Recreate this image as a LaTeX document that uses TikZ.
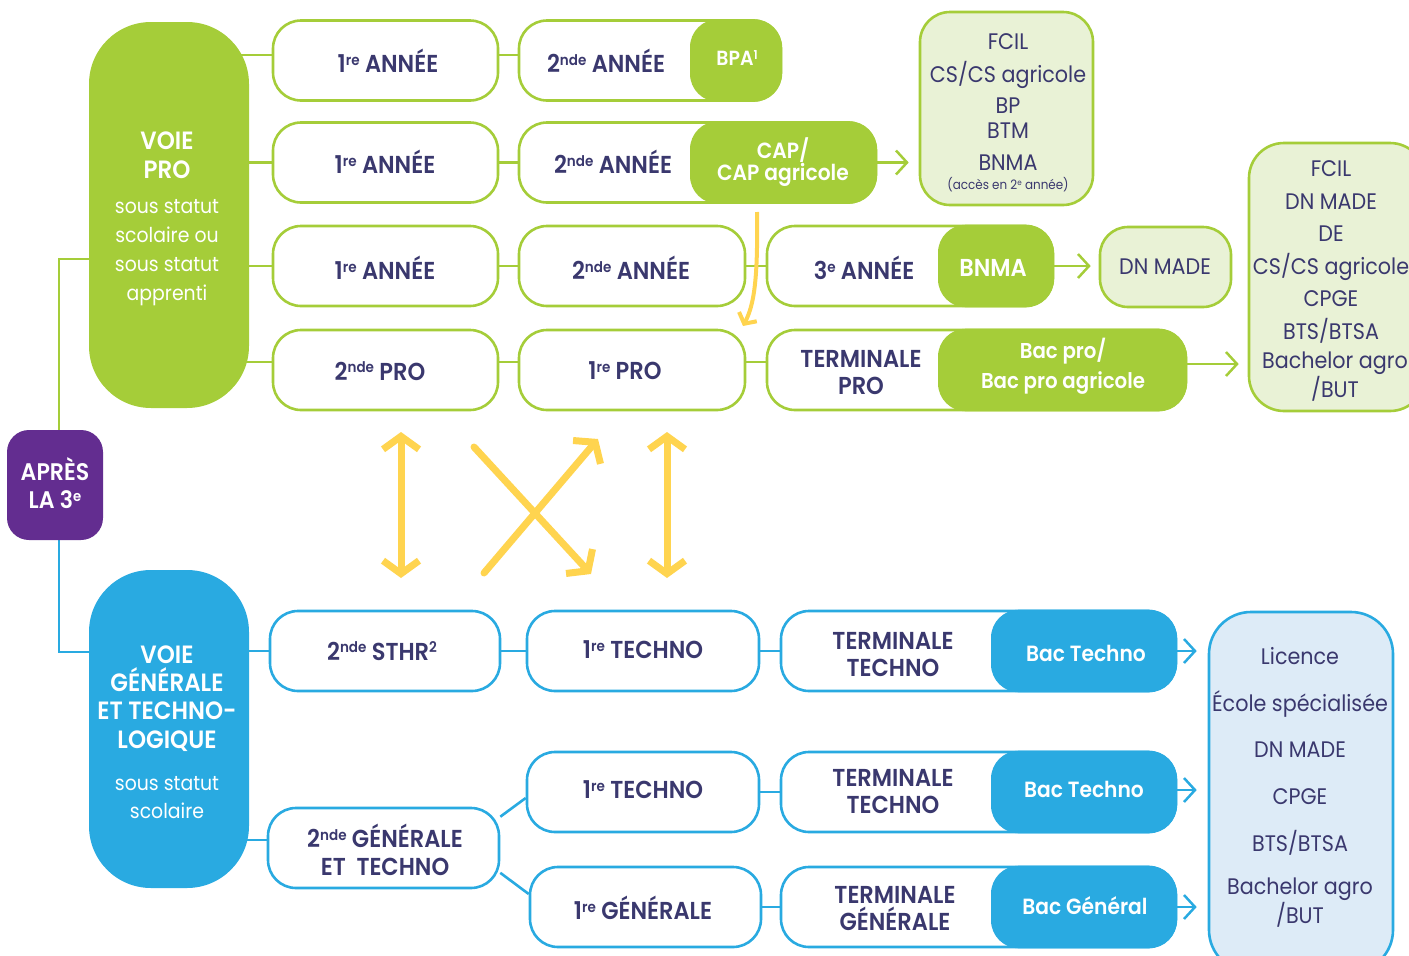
\documentclass[tikz,border=0pt]{standalone}
\usepackage{fontspec}
\usepackage{graphicx}
\setmainfont{Poppins}[FakeStretch=0.92]
\newfontfamily\semib{Poppins SemiBold}[FakeStretch=0.92]
\usetikzlibrary{arrows.meta,calc}
\pgfdeclarelayer{bg}
\pgfsetlayers{bg,main}
\definecolor{gr}{HTML}{A5CD39}
\definecolor{lg}{HTML}{E9F2D6}
\definecolor{bl}{HTML}{29AAE1}
\definecolor{lb}{HTML}{DDEBF7}
\definecolor{pu}{HTML}{632D90}
\definecolor{navy}{HTML}{3A386E}
\definecolor{yel}{HTML}{FFD44F}
\newcommand\mysup[1]{\raisebox{0.3em}{\scalebox{0.6}{#1}}}
\tikzset{ytip/.tip={Straight Barb[length=13pt,width=36pt]}}
\begin{document}
\begin{tikzpicture}[x=1pt,y=-1pt,
  box/.style={rounded corners=28pt, line width=2.6pt, minimum height=80pt, inner sep=0pt, fill=white},
  gbox/.style={box, draw=gr},
  bbox/.style={box, draw=bl},
  gpart/.style={rounded corners=28pt, fill=gr, minimum height=82.6pt, inner sep=0pt},
  bpart/.style={rounded corners=28pt, fill=bl, minimum height=82.6pt, inner sep=0pt},
  lab/.style={inner sep=0pt, align=center, text=navy, font=\semib\fontsize{24.5}{27}\selectfont},
  wlab/.style={lab, text=white},
  lst/.style={inner sep=0pt, align=center, text=navy, font=\fontsize{22.5}{27}\selectfont},
  gline/.style={draw=gr, line width=2.6pt},
  bline/.style={draw=bl, line width=2.6pt},
  garrow/.style={draw=gr, line width=2.5pt, -{Straight Barb[length=11pt,width=24pt]}},
  barrow/.style={draw=bl, line width=2.5pt, -{Straight Barb[length=11pt,width=24pt]}},
  yarrow/.style={draw=yel, line width=7pt, line cap=round},
]
\useasboundingbox (0,0) rectangle (1409,956);

% main columns
\node[fill=gr, rounded corners=62pt, minimum width=160pt, minimum height=386pt, inner sep=0pt] (voiepro) at (169,215) {};
\node[fill=bl, rounded corners=62pt, minimum width=160pt, minimum height=318pt, inner sep=0pt] (voiegen) at (169,729) {};
\node[fill=pu, rounded corners=22pt, minimum width=96pt, minimum height=110pt, inner sep=0pt] (apres) at (55,485) {};

\node[wlab, font=\semib\fontsize{25}{29}\selectfont] (voieprot) at (167,155.5) {VOIE\\PRO};
\node[wlab, font=\fontsize{20.5}{29}\selectfont] (voieprost) at (167,252.5) {sous statut\\scolaire ou\\sous statut\\apprenti};
\node[wlab, font=\semib\fontsize{24}{28}\selectfont] (apresst) at (55,483) {APRÈS\\LA 3\mysup{e}};
\node[wlab, font=\semib\fontsize{25}{28.3}\selectfont] (voiegent) at (167,698.5) {VOIE\\GÉNÉRALE\\ET TECHNO-\\LOGIQUE};
\node[wlab, font=\fontsize{20.5}{28}\selectfont] (voiegenst) at (167,798) {sous statut\\scolaire};

% green rows
\node[gbox, minimum width=225pt] (r1a) at (385.5,60.5) {};
\node[gbox, minimum width=262pt] (r1b) at (650,60.5) {};
\node[gpart, minimum width=92pt] (bpa) at (736,60.5) {};
\node[gbox, minimum width=225pt] (r2a) at (385.5,162.5) {};
\node[gbox, minimum width=357pt] (r2b) at (697.5,162.5) {};
\node[gpart, minimum width=187pt] (cap) at (783.5,162.5) {};
\node[gbox, minimum width=225pt] (r3a) at (385.5,266) {};
\node[gbox, minimum width=226pt] (r3b) at (632,266) {};
\node[gbox, minimum width=286pt] (r3c) at (910,266) {};
\node[gpart, minimum width=116pt] (bnma) at (996,266) {};
\node[gbox, fill=lg, minimum width=131pt] (dnmade) at (1165.5,267) {};
\node[gbox, minimum width=225pt] (r4a) at (385.5,370) {};
\node[gbox, minimum width=226pt] (r4b) at (632,370) {};
\node[gbox, minimum width=419pt] (r4c) at (976.5,370) {};
\node[gpart, minimum width=249pt] (bacpro) at (1062.5,370) {};
\node[gbox, fill=lg, rounded corners=30pt, minimum width=173pt, minimum height=193pt] (fcil) at (1006.5,108.5) {};
\node[gbox, fill=lg, rounded corners=35pt, minimum width=176pt, minimum height=268pt] (topright) at (1337,277) {};

\node[lab] (t1a) at (388,61) {1\mysup{re} ANNÉE};
\node[lab] (t1b) at (606,61) {2\mysup{nde} ANNÉE};
\node[wlab, font=\semib\fontsize{20.5}{22}\selectfont] (tbpa) at (737,58) {BPA\mysup{1}};
\node[lab] (t2a) at (385,162) {1\mysup{re} ANNÉE};
\node[lab] (t2b) at (613,162) {2\mysup{nde} ANNÉE};
\node[wlab, font=\semib\fontsize{22}{21}\selectfont] (tcap) at (783,162) {CAP/\\CAP agricole};
\node[lab] (t3a) at (385,268) {1\mysup{re} ANNÉE};
\node[lab] (t3b) at (631,268) {2\mysup{nde} ANNÉE};
\node[lab] (t3c) at (864,268) {3\mysup{e} ANNÉE};
\node[wlab] (tbnma) at (993,268) {BNMA};
\node[lst] (tdn) at (1165,267) {DN MADE};
\node[lab] (t4a) at (380,371) {2\mysup{nde} PRO};
\node[lab] (t4b) at (625,371) {1\mysup{re} PRO};
\node[lab] (t4c) at (861,373) {TERMINALE\\PRO};
\node[wlab, font=\semib\fontsize{21.5}{30}\selectfont] (tbacpro) at (1063,366) {Bac pro/\\Bac pro agricole};

\node[lst] (f1) at (1008,42) {FCIL};
\node[lst] (f2) at (1008,75) {CS/CS agricole};
\node[lst] (f3) at (1008,106) {BP};
\node[lst] (f4) at (1008,131) {BTM};
\node[lst] (f5) at (1008,163) {BNMA};
\node[lst, font=\fontsize{13}{15}\selectfont] (f6) at (1008,185) {(accès en 2\mysup{e} année)};

\node[lst] (g1) at (1331,169) {FCIL};
\node[lst] (g2) at (1331,202) {DN MADE};
\node[lst] (g3) at (1331,234) {DE};
\node[lst] (g4) at (1331,267) {CS/CS agricole};
\node[lst] (g5) at (1331,299) {CPGE};
\node[lst] (g6) at (1331,331) {BTS/BTSA};
\node[lst] (g7) at (1335,363) {Bachelor agro};
\node[lst] (g8) at (1335,389) {/BUT};

% blue rows
\node[bbox, minimum width=230pt] (sthr) at (385,651) {};
\node[bbox, minimum width=232pt] (techA) at (643,651) {};
\node[bbox, minimum width=395pt] (termA) at (978.5,651) {};
\node[bpart, minimum width=186pt] (bacA) at (1084,651) {};
\node[bbox, minimum width=232pt] (techB) at (643,792) {};
\node[bbox, minimum width=395pt] (termB) at (978.5,792) {};
\node[bpart, minimum width=186pt] (bacB) at (1084,792) {};
\node[bbox, minimum width=231pt] (gen1) at (645.5,907) {};
\node[bbox, minimum width=395pt] (termC) at (978.5,907) {};
\node[bpart, minimum width=186pt] (bacC) at (1084,907) {};
\node[bbox, minimum width=231pt] (gen2) at (383.5,848) {};
\node[bbox, fill=lb, rounded corners=42pt, minimum width=184pt, minimum height=360pt] (rightblue) at (1301,792) {};

\node[lab] (s1) at (382,651) {2\mysup{nde} STHR\mysup{2}};
\node[lab] (s2) at (643,650) {1\mysup{re} TECHNO};
\node[lab] (s3) at (893,655) {TERMINALE\\TECHNO};
\node[wlab, font=\semib\fontsize{22}{27}\selectfont] (s4) at (1086,653) {Bac Techno};
\node[lab] (s5) at (643,790) {1\mysup{re} TECHNO};
\node[lab] (s6) at (893,792) {TERMINALE\\TECHNO};
\node[wlab, font=\semib\fontsize{22}{27}\selectfont] (s7) at (1084,789) {Bac Techno};
\node[lab] (s8) at (643,908) {1\mysup{re} GÉNÉRALE};
\node[lab] (s9) at (895,908) {TERMINALE\\GÉNÉRALE};
\node[wlab, font=\semib\fontsize{22}{27}\selectfont] (s10) at (1085,906) {Bac Général};
\node[lab, font=\semib\fontsize{24.5}{28}\selectfont] (s11) at (385,850) {2\mysup{nde} GÉNÉRALE\\ET~~TECHNO};

\node[lst] (h1) at (1300,656) {Licence};
\node[lst] (h2) at (1300,704) {École spécialisée};
\node[lst] (h3) at (1300,750) {DN MADE};
\node[lst] (h4) at (1300,797) {CPGE};
\node[lst] (h5) at (1300,843) {BTS/BTSA};
\node[lst] (h6) at (1300,889) {Bachelor agro};
\node[lst] (h7) at (1300,915) {/BUT};

% connectors (behind)
\begin{pgfonlayer}{bg}
\draw[gline] ([xshift=4pt]apres.north) |- ([yshift=-44pt]voiepro.west);
\draw[bline] ([xshift=4pt]apres.south) |- ([yshift=77pt]voiegen.west);
\draw[gline] ($(voiepro.center|-r1a.west)+(0,-5.5)$) -- ($(r1a.west)+(0,-5.5)$);
\draw[gline] ($(r1a.east)+(0,-5.5)$) -- ($(r1b.west)+(0,-5.5)$);
\draw[gline] (voiepro.center|-r2a.west) -- (r2a.west);
\draw[gline] (r2a.east) -- (r2b.west);
\draw[gline] (voiepro.center|-r3a.west) -- (r3a.west);
\draw[gline] (r3a.east) -- (r3b.west);
\draw[gline] (r3b.east) -- (r3c.west);
\draw[gline] ($(voiepro.center|-r4a.west)+(0,-8)$) -- ($(r4a.west)+(0,-8)$);
\draw[gline] ($(r4a.east)+(0,-8)$) -- ($(r4b.west)+(0,-8)$);
\draw[gline] ($(r4b.east)+(0,-8)$) -- ($(r4c.west)+(0,-8)$);
\draw[bline] (voiegen.center|-sthr.west) -- (sthr.west);
\draw[bline] ($(voiegen.center|-gen2.west)+(0,-8)$) -- ($(gen2.west)+(0,-8)$);
\draw[bline] (sthr.east) -- (techA.west);
\draw[bline] (techA.east) -- (termA.west);
\draw[bline] (gen2.15) -- ($(techB.west)+(0,6)$);
\draw[bline] (gen2.-12) -- ($(gen1.west)+(0,-13)$);
\draw[bline] (techB.east) -- (termB.west);
\draw[bline] (gen1.east) -- (termC.west);
\end{pgfonlayer}

% arrows
\draw[garrow, shorten >=10pt] (cap.east) -- (cap.east -| fcil.west);
\draw[garrow, shorten >=8pt] (bnma.east) -- (bnma.east -| dnmade.west);
\draw[garrow, shorten >=9pt] ($(bacpro.east)+(0,-6)$) -- ($(bacpro.east -| topright.west)+(0,-6)$);
\draw[barrow, shorten >=11pt] (bacA.east) -- (bacA.east -| rightblue.west);
\draw[barrow, shorten >=11pt] ($(bacB.east)+(0,-2)$) -- ($(bacB.east -| rightblue.west)+(0,-2)$);
\draw[barrow, shorten >=11pt] (bacC.east) -- (bacC.east -| rightblue.west);

% yellow arrows
\coordinate (ya1) at (401,432);
\coordinate (ya2) at (401,578);
\coordinate (yb1) at (474,447);
\coordinate (yb2) at (591,574);
\coordinate (yc1) at (484,573);
\coordinate (yc2) at (598,439);
\coordinate (yd1) at (667,432);
\coordinate (yd2) at (667,578);
\coordinate (ye1) at (757,212);
\coordinate (ye2) at (743,326);
\draw[yarrow, ytip-ytip] (ya1) -- (ya2);
\draw[yarrow, -ytip] (yb1) -- (yb2);
\draw[yarrow, -ytip] (yc1) -- (yc2);
\draw[yarrow, ytip-ytip] (yd1) -- (yd2);
\draw[draw=yel, line width=4pt, -{Straight Barb[length=8pt,width=20pt]}] (ye1) .. controls (758,280) and (754,305) .. (ye2);
\end{tikzpicture}
\end{document}
